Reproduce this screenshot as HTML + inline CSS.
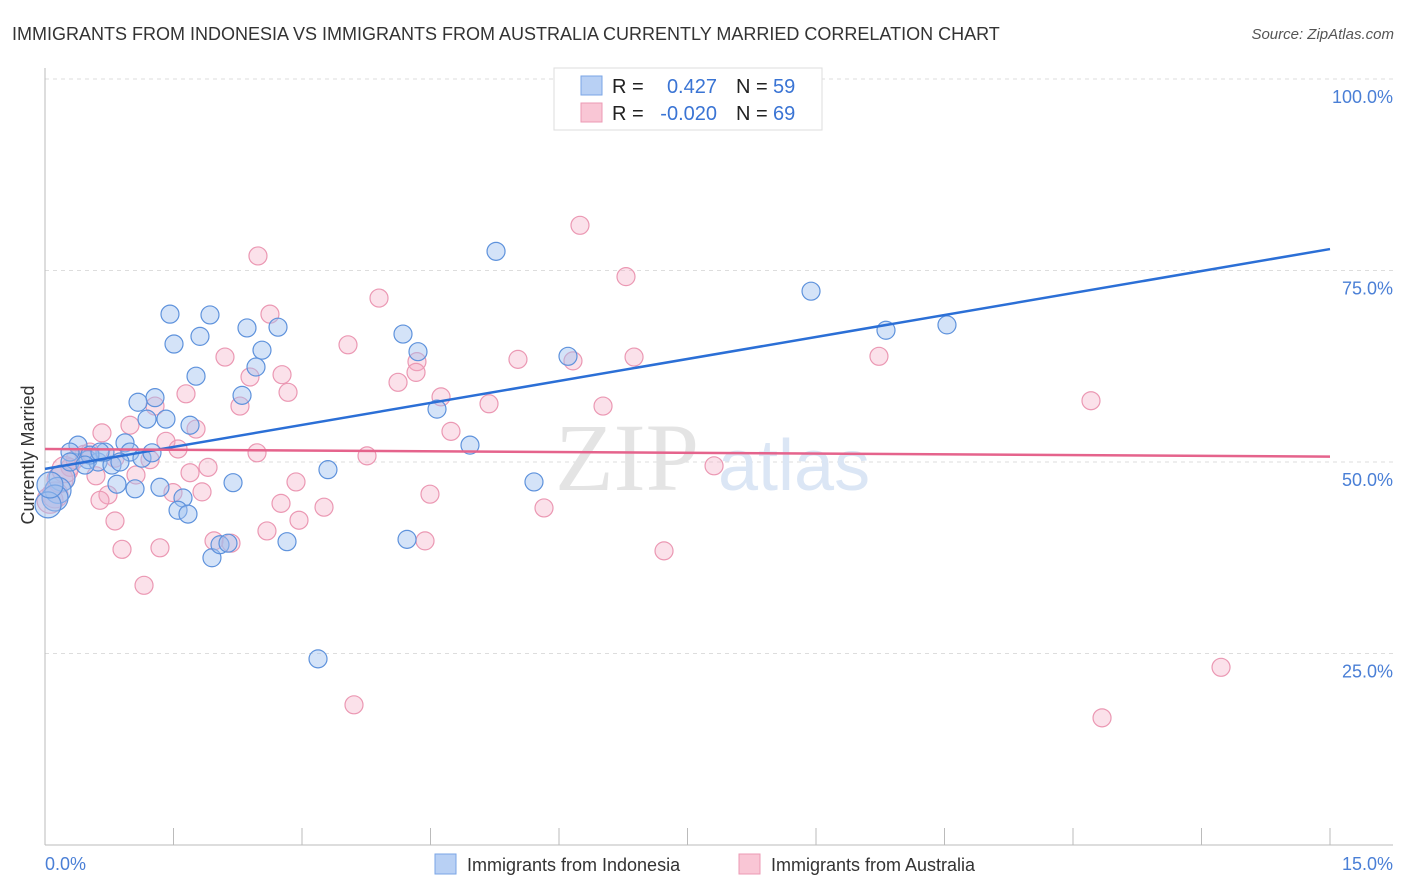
<!DOCTYPE html>
<html><head><meta charset="utf-8"><style>
body{margin:0;background:#fff;font-family:"Liberation Sans",sans-serif;}
svg{display:block}
</style></head><body>
<svg id="chart" width="1406" height="892" xmlns="http://www.w3.org/2000/svg">
<text x="12" y="40" font-size="18" fill="#333">IMMIGRANTS FROM INDONESIA VS IMMIGRANTS FROM AUSTRALIA CURRENTLY MARRIED CORRELATION CHART</text>
<text x="1394" y="39" font-size="15" fill="#555" text-anchor="end" font-style="italic">Source: ZipAtlas.com</text>
<g id="grid"></g>
<text x="555" y="490" font-size="96" fill="#e4e4e4" font-family="Liberation Serif">ZIP</text>
<text x="718" y="490" font-size="72" fill="#dbe6f5">atlas</text>
<g id="axes"></g>
<g id="pts"></g>
<g id="trends"></g>
<text transform="translate(34,455) rotate(-90)" font-size="18" fill="#333" text-anchor="middle">Currently Married</text>
<text x="45" y="870" font-size="18" fill="#4a7fd6">0.0%</text>
<text x="1393" y="870" font-size="18" fill="#4a7fd6" text-anchor="end">15.0%</text>
<g>
<rect x="554" y="68" width="268" height="62" fill="#fff" stroke="#ddd"/>
<rect x="581" y="76" width="21" height="19" fill="#b8d0f4" stroke="#7aa5e6"/>
<rect x="581" y="103" width="21" height="19" fill="#f9c6d5" stroke="#ec9ab4"/>
<text x="612" y="93" font-size="20" fill="#222">R = </text><text x="717" y="93" font-size="20" fill="#3a74d4" text-anchor="end">0.427</text>
<text x="736" y="93" font-size="20" fill="#222">N = </text><text x="773" y="93" font-size="20" fill="#3a74d4">59</text>
<text x="612" y="120" font-size="20" fill="#222">R = </text><text x="717" y="120" font-size="20" fill="#3a74d4" text-anchor="end">-0.020</text>
<text x="736" y="120" font-size="20" fill="#222">N = </text><text x="773" y="120" font-size="20" fill="#3a74d4">69</text>
</g>
<g>
<rect x="435" y="854" width="21" height="20" fill="#b8d0f4" stroke="#7aa5e6"/>
<text x="467" y="871" font-size="18" fill="#333">Immigrants from Indonesia</text>
<rect x="739" y="854" width="21" height="20" fill="#f9c6d5" stroke="#ec9ab4"/>
<text x="771" y="871" font-size="18" fill="#333">Immigrants from Australia</text>
</g>
</svg>
<script>
const blueX=[0.385,0.292,0.502,0.619,0.782,0.700,0.934,0.992,1.132,1.249,1.459,1.506,1.926,1.809,2.358,2.720,2.533,2.463,2.300,1.763,1.284,1.086,1.191,1.412,1.693,0.198,0.152,0.117,0.035,0.840,1.051,1.342,1.611,1.553,1.669,2.195,1.949,2.043,2.136,2.825,3.187,3.303,4.179,4.354,4.576,4.961,5.265,5.708,4.226,6.105,8.942,9.817,10.529,0.058,0.292,0.525,0.642,0.875,0.467];
const blueY=[52.2,51.3,50.3,50.0,49.6,51.3,52.5,51.3,50.5,51.2,69.3,65.4,69.2,66.4,67.5,67.6,64.6,62.4,58.7,61.2,58.4,57.8,55.6,55.6,54.8,47.9,46.3,45.3,44.4,47.1,46.5,46.7,45.3,43.7,43.2,47.3,37.5,39.2,39.4,39.6,24.3,49.0,66.7,64.4,56.9,52.2,77.5,47.4,39.9,63.8,72.3,67.2,67.9,47.0,50.0,50.9,51.3,50.0,49.6];
const pinkX=[2.486,6.245,6.782,3.899,2.626,3.537,2.101,2.767,2.393,2.837,2.276,1.646,1.284,0.992,0.665,1.412,1.553,1.763,1.903,1.693,1.062,0.595,0.735,0.817,0.899,1.156,1.342,1.494,1.833,1.973,2.171,2.475,2.591,2.755,2.930,2.965,3.257,3.607,3.759,4.121,4.342,4.331,4.623,4.739,5.183,5.521,6.163,6.514,6.876,5.825,4.494,4.436,7.226,7.810,9.735,12.210,12.339,13.728,0.455,0.292,0.175,0.117,0.058,0.525,0.817,1.226,0.350,0.233,0.642];
const pinkY=[76.9,80.9,74.2,71.4,69.3,65.3,63.7,61.4,61.1,59.1,57.3,58.9,57.3,54.8,53.8,52.7,51.7,54.3,49.3,48.6,48.3,48.2,45.7,42.3,38.6,33.9,38.8,46.0,46.1,39.7,39.4,51.2,41.0,44.6,47.4,42.4,44.1,18.3,50.8,60.4,63.1,61.7,58.5,54.0,57.6,63.4,63.2,57.3,63.7,44.0,45.8,39.7,38.4,49.5,63.8,58.0,16.6,23.2,51.0,49.3,47.7,45.7,45.0,51.3,50.5,50.3,50.3,49.0,45.0];
const blueTrend=[49.1,77.8];
const pinkTrend=[51.7,50.7];
const yTicks=[25,50,75,100];
const yTickLabels=["25.0%","50.0%","75.0%","100.0%"];
const xTicks=[0,1.5,3,4.5,6,7.5,9,10.5,12,13.5,15];
const NS="http://www.w3.org/2000/svg";
const X0=45,X1=1330,Y0=845,Y100=79;
const sx=v=>X0+(v/15)*(X1-X0);
const sy=v=>Y0-(v/100)*(Y0-Y100);
function mk(tag,attrs,parent){const e=document.createElementNS(NS,tag);for(const k in attrs)e.setAttribute(k,attrs[k]);parent.appendChild(e);return e;}
const grid=document.getElementById('grid'),axes=document.getElementById('axes'),pts=document.getElementById('pts'),tr=document.getElementById('trends');
yTicks.forEach((t,i)=>{
 const l=mk('line',{x1:X0,x2:1393,y1:sy(t),y2:sy(t),stroke:'#ddd','stroke-dasharray':'4,4'},grid);
 
 
 const tx=mk('text',{x:1393,y:sy(t)+24,'font-size':18,fill:'#4a7fd6','text-anchor':'end'},grid);
 tx.textContent=yTickLabels[i];
 
 
});
const ax=mk('line',{x1:X0,x2:X0,y1:68,y2:Y0,stroke:'#bbb'},axes);


const bx=mk('line',{x1:X0,x2:1393,y1:Y0,y2:Y0,stroke:'#bbb'},axes);


xTicks.forEach(t=>{
 const k=mk('line',{x1:sx(t),x2:sx(t),y1:828,y2:Y0,stroke:'#bbb'},axes);
 
 
});
function dots(xs,ys,fill,stroke,name){
 xs.forEach((x,i)=>{
  const r=x<0.25?13:9;
  const c=mk('circle',{cx:sx(x),cy:sy(ys[i]),r:r,fill:fill,stroke:stroke,'stroke-width':1.2},pts);
  
  
 });
}
dots(pinkX,pinkY,'rgba(244,170,195,0.35)','#eb98b3','point-australia');
dots(blueX,blueY,'rgba(160,192,240,0.45)','#5e92dc','point-indonesia');
const lb=mk('line',{x1:sx(0),y1:sy(blueTrend[0]),x2:sx(15),y2:sy(blueTrend[1]),stroke:'#2b6fd6','stroke-width':2.5},tr);


const lp=mk('line',{x1:sx(0),y1:sy(pinkTrend[0]),x2:sx(15),y2:sy(pinkTrend[1]),stroke:'#e5638c','stroke-width':2.5},tr);


</script>
</body></html>
